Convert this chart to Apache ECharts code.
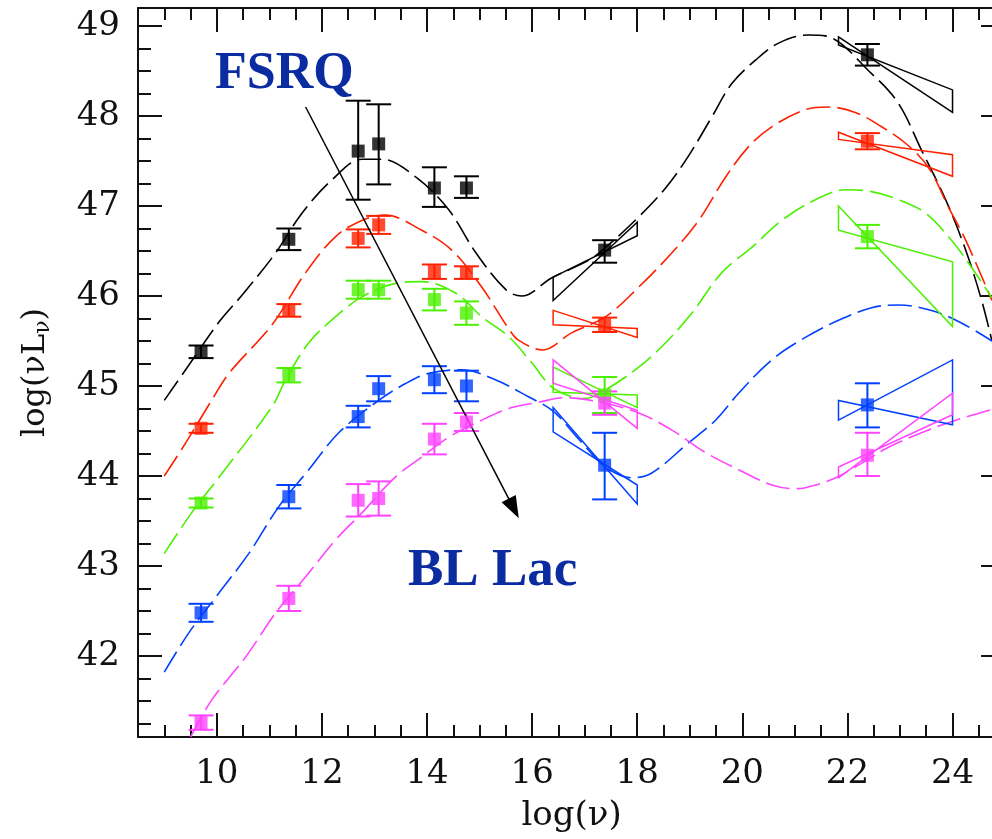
<!DOCTYPE html>
<html>
<head>
<meta charset="utf-8">
<script src="https://cdn.jsdelivr.net/npm/echarts@6/dist/echarts.min.js"></script>
<style>
html,body{margin:0;padding:0;background:#fff;}
#chart{width:992px;height:839px;}
</style>
</head>
<body>
<div id="chart"></div>
<script>
// ---- axis ticks / labels ----
var xMajorTicks = [10, 12, 14, 16, 18, 20, 22, 24];
var yMajorTicks = [42, 43, 44, 45, 46, 47, 48, 49];
var xMinorTicks = [9, 9.5, 10.5, 11, 11.5, 12.5, 13, 13.5, 14.5, 15, 15.5, 16.5, 17, 17.5, 18.5, 19, 19.5, 20.5, 21, 21.5, 22.5, 23, 23.5, 24.5];
var yMinorTicks = [41.25, 41.5, 41.75, 42.25, 42.5, 42.75, 43.25, 43.5, 43.75, 44.25, 44.5, 44.75, 45.25, 45.5, 45.75, 46.25, 46.5, 46.75, 47.25, 47.5, 47.75, 48.25, 48.5, 48.75];

// ---- data points: [log nu, log nuLnu, low, high] ----
var blackPoints = [[9.7,45.38,45.31,45.45],[11.37,46.63,46.51,46.75],[12.69,47.61,47.07,48.17],[13.08,47.69,47.24,48.13],[14.14,47.2,46.99,47.43],[14.75,47.2,47.09,47.33],[17.38,46.51,46.37,46.62],[22.38,48.68,48.56,48.8]];
var redPoints = [[9.7,44.53,44.48,44.58],[11.37,45.84,45.77,45.91],[12.69,46.64,46.54,46.74],[13.08,46.79,46.69,46.89],[14.14,46.27,46.19,46.35],[14.75,46.26,46.19,46.33],[17.38,45.68,45.6,45.76],[22.38,47.72,47.63,47.81]];
var greenPoints = [[9.7,43.7,43.65,43.75],[11.37,45.12,45.04,45.2],[12.69,46.07,45.97,46.17],[13.08,46.07,45.97,46.17],[14.14,45.96,45.84,46.08],[14.75,45.81,45.68,45.94],[17.38,44.9,44.7,45.1],[22.38,46.66,46.53,46.79]];
var bluePoints = [[9.7,42.48,42.38,42.58],[11.37,43.77,43.64,43.9],[12.69,44.66,44.54,44.78],[13.08,44.97,44.83,45.11],[14.14,45.07,44.92,45.22],[14.75,45.0,44.83,45.17],[17.38,44.12,43.74,44.48],[22.38,44.79,44.54,45.03]];
var magentaPoints = [[9.7,41.26,41.18,41.34],[11.37,42.64,42.5,42.78],[12.69,43.73,43.55,43.91],[13.08,43.75,43.56,43.94],[14.14,44.41,44.24,44.58],[14.75,44.6,44.5,44.7],[17.38,44.81,44.68,44.94],[22.38,44.23,44.0,44.48]];

// ---- bow-ties: [x1, x2, lineA y1, lineA y2, lineB y1, lineB y2] ----
var blackBowties = [[16.4,18.0,45.95,46.82,46.21,46.67],[21.83,24.0,48.88,48.04,48.79,48.29]];
var redBowties = [[16.4,18.0,45.84,45.54,45.68,45.64],[21.83,24.0,47.82,47.33,47.74,47.57]];
var greenBowties = [[16.4,18.0,45.21,44.76,44.93,44.9],[21.83,24.0,47.0,45.66,46.73,46.38]];
var blueBowties = [[16.4,18.0,44.76,43.69,44.49,43.9],[21.83,24.0,44.62,45.29,44.84,44.57]];
var magentaBowties = [[16.4,18.0,45.29,44.53,45.03,44.73],[21.83,24.0,43.98,44.92,44.1,44.68]];

// ---- model curves ----
var blackCurve = [[9.0,44.84],[9.43,45.2],[10.04,45.71],[10.51,46.03],[11.12,46.48],[11.62,46.92],[12.19,47.29],[12.76,47.52],[13.14,47.52],[13.79,47.32],[14.41,46.96],[14.93,46.48],[15.5,46.07],[15.8,46.0],[16.37,46.2],[17.08,46.4],[17.4,46.54],[18.03,46.88],[18.54,47.2],[18.98,47.56],[19.42,47.99],[19.8,48.36],[20.25,48.62],[20.69,48.81],[21.26,48.9],[21.58,48.89],[22.46,48.47],[22.97,48.14],[23.41,47.62],[23.87,47.07],[24.25,46.51],[24.55,45.96],[24.75,45.5]];
var redCurve = [[9.0,44.0],[9.41,44.37],[9.9,44.84],[10.23,45.14],[11.05,45.68],[11.69,46.26],[12.26,46.66],[12.76,46.84],[13.2,46.9],[13.9,46.73],[14.47,46.51],[15.04,46.1],[15.55,45.64],[15.74,45.51],[16.2,45.4],[16.75,45.59],[17.4,45.77],[18.03,46.1],[18.66,46.48],[19.17,46.84],[19.68,47.32],[20.12,47.66],[20.56,47.88],[21.2,48.07],[21.64,48.1],[22.15,48.04],[22.65,47.88],[23.1,47.7],[23.54,47.43],[23.92,46.99],[24.25,46.62],[24.75,45.95]];
var greenCurve = [[9.0,43.14],[9.52,43.59],[10.1,44.03],[11.05,44.77],[11.31,45.07],[11.75,45.48],[12.26,45.77],[12.76,45.99],[13.4,46.14],[13.9,46.16],[14.55,46.03],[15.04,45.77],[15.55,45.55],[15.99,45.26],[16.37,44.99],[16.75,44.88],[17.0,44.86],[17.32,44.93],[18.03,45.21],[18.54,45.48],[19.04,45.81],[19.61,46.26],[20.18,46.54],[20.75,46.84],[21.39,47.07],[21.96,47.18],[22.46,47.16],[22.97,47.07],[23.49,46.92],[23.98,46.62],[24.36,46.32],[24.75,45.98]];
var blueCurve = [[9.0,41.82],[9.47,42.26],[10.04,42.7],[10.61,43.14],[11.18,43.66],[11.75,44.07],[12.32,44.48],[13.08,44.84],[13.6,45.03],[14.03,45.14],[14.66,45.18],[15.3,45.07],[15.93,44.88],[16.4,44.72],[16.9,44.4],[17.4,44.1],[17.9,43.98],[18.27,44.03],[18.98,44.37],[19.49,44.62],[19.93,44.92],[20.56,45.29],[21.2,45.54],[21.83,45.73],[22.46,45.87],[22.97,45.9],[23.6,45.84],[24.17,45.7],[24.75,45.5]];
var magentaCurve = [[9.5,41.1],[9.9,41.51],[10.55,41.99],[11.12,42.48],[11.69,42.88],[12.26,43.29],[12.76,43.59],[13.4,43.99],[13.9,44.21],[14.41,44.43],[15.04,44.62],[15.61,44.76],[16.13,44.82],[16.6,44.87],[17.3,44.82],[18.03,44.7],[18.66,44.51],[19.3,44.26],[19.93,44.07],[20.56,43.9],[21.0,43.86],[21.2,43.87],[21.7,43.96],[22.15,44.1],[22.78,44.32],[23.41,44.48],[24.06,44.62],[24.75,44.74]];

// ---- annotation arrow (data coords) ----
var arrowStart = [11.69, 48.1];
var arrowEnd = [15.65, 43.64];

var groups = [
  {color:'#000000', points:blackPoints, bowties:blackBowties, curve:blackCurve},
  {color:'#ff2000', points:redPoints, bowties:redBowties, curve:redCurve},
  {color:'#4cf000', points:greenPoints, bowties:greenBowties, curve:greenCurve},
  {color:'#0040ff', points:bluePoints, bowties:blueBowties, curve:blueCurve},
  {color:'#ff44ff', points:magentaPoints, bowties:magentaBowties, curve:magentaCurve}
];

var AX = '#111';
var X_MIN = 8.5, X_MAX = 25, Y_MIN = 41.1, Y_MAX = 49.2;

function makeX(pos, ticks, len, showLine, showLabel) {
  return {type:'value', min:X_MIN, max:X_MAX, position:pos,
    axisLine:{show:showLine, onZero:false, lineStyle:{color:AX, width:2}},
    axisTick:{show:true, inside:true, length:len, customValues:ticks, lineStyle:{color:AX, width:2}},
    axisLabel:{show:showLabel, customValues:ticks, margin:20, fontFamily:'DejaVu Serif', fontSize:34, color:'#111'},
    splitLine:{show:false}};
}
function makeY(pos, ticks, len, showLine, showLabel) {
  return {type:'value', min:Y_MIN, max:Y_MAX, position:pos,
    axisLine:{show:showLine, onZero:false, lineStyle:{color:AX, width:2}},
    axisTick:{show:true, inside:true, length:len, customValues:ticks, lineStyle:{color:AX, width:2}},
    axisLabel:{show:showLabel, customValues:ticks, margin:18, fontFamily:'DejaVu Serif', fontSize:34, color:'#111'},
    splitLine:{show:false}};
}

var xAxes = [makeX('bottom', xMajorTicks, 24, true, true), makeX('bottom', xMinorTicks, 12, false, false),
             makeX('top', xMajorTicks, 24, true, false), makeX('top', xMinorTicks, 12, false, false)];
var yAxes = [makeY('left', yMajorTicks, 24, true, true), makeY('left', yMinorTicks, 13, false, false),
             makeY('right', yMajorTicks, 24, true, false), makeY('right', yMinorTicks, 13, false, false)];

xAxes[0].name = 'log(ν)';
xAxes[0].nameLocation = 'middle';
xAxes[0].nameGap = 62;
xAxes[0].nameTextStyle = {fontFamily:'DejaVu Serif', fontSize:34, color:'#111'};

yAxes[0].name = '{b|log(νL}{s|ν}{b|)}';
yAxes[0].nameLocation = 'middle';
yAxes[0].nameGap = 84;
yAxes[0].nameTextStyle = {fontFamily:'DejaVu Serif', fontSize:32, color:'#111',
  rich:{b:{fontFamily:'DejaVu Serif', fontSize:32, color:'#111'},
        s:{fontFamily:'DejaVu Serif', fontSize:22, color:'#111', padding:[14,0,0,0]}}};

var series = [];
groups.forEach(function (g) {
  series.push({type:'line', data:g.curve, smooth:0.35, showSymbol:false, silent:true,
    lineStyle:{color:g.color, width:1.6, type:[24,7]}, z:2});
  series.push({type:'custom', data:g.bowties, silent:true, z:3, encode:{x:[0,1], y:[2,3,4,5]},
    renderItem:(function (color) { return function (params, api) {
      var x1 = api.value(0), x2 = api.value(1);
      var p = [api.coord([x1, api.value(2)]), api.coord([x2, api.value(3)]),
               api.coord([x2, api.value(5)]), api.coord([x1, api.value(4)])];
      return {type:'polygon', shape:{points:p}, style:{fill:'none', stroke:color, lineWidth:1.5}};
    }; })(g.color)});
  series.push({type:'custom', data:g.points, silent:true, z:4, encode:{x:0, y:[2,3]},
    renderItem:(function (color) { return function (params, api) {
      var x = api.value(0), lo = api.coord([x, api.value(2)]), hi = api.coord([x, api.value(3)]), hw = 12.5;
      var st = {stroke:color, lineWidth:2};
      return {type:'group', children:[
        {type:'line', shape:{x1:lo[0], y1:lo[1], x2:hi[0], y2:hi[1]}, style:st},
        {type:'line', shape:{x1:lo[0]-hw, y1:lo[1], x2:lo[0]+hw, y2:lo[1]}, style:st},
        {type:'line', shape:{x1:hi[0]-hw, y1:hi[1], x2:hi[0]+hw, y2:hi[1]}, style:st}]};
    }; })(g.color)});
  series.push({type:'scatter', data:g.points.map(function (d) { return [d[0], d[1]]; }),
    symbol:'rect', symbolSize:13, itemStyle:{color:g.color}, silent:true, z:5});
});

series.push({type:'line', data:[], silent:true, markLine:{silent:true, animation:false,
  symbol:['none','triangle'], symbolSize:[16,22], label:{show:false},
  lineStyle:{color:'#000', width:1.5, type:'solid'},
  data:[[{coord:arrowStart}, {coord:arrowEnd}]]}});

var chart = echarts.init(document.getElementById('chart'));
chart.setOption({
  animation:false,
  backgroundColor:'#fff',
  grid:{left:138, top:8, width:(X_MAX - X_MIN) * 52.55, height:729, outerBoundsMode:'none'},
  xAxis:xAxes,
  yAxis:yAxes,
  series:series,
  graphic:[
    {type:'text', left:215, top:49, silent:true, style:{text:'FSRQ', font:'bold 52px "Liberation Serif"', fill:'#0a2ca0'}},
    {type:'text', left:408, top:545, silent:true, style:{text:'BL Lac', font:'bold 53px "Liberation Serif"', fill:'#0a2ca0'}}
  ]
});
</script>
</body>
</html>
